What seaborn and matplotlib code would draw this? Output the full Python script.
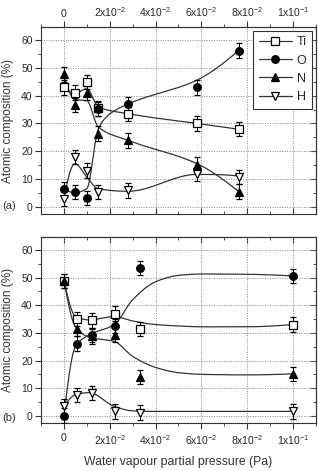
import numpy as np
import pandas as pd
import matplotlib
matplotlib.use("Agg")
import matplotlib.pyplot as plt
from matplotlib.lines import Line2D
from matplotlib.ticker import MultipleLocator, FixedLocator, NullFormatter
import seaborn as sns

# ---------------- data (a) ----------------
x_a = [0.0, 0.0048, 0.0100, 0.0150, 0.0280, 0.0580, 0.0763]
ti_a = [43.0, 41.1, 45.0, 35.4, 33.3, 30.0, 27.9]
o_a = [6.4, 5.2, 3.1, 35.1, 37.0, 43.0, 56.3]
n_a = [47.7, 36.6, 41.0, 26.3, 23.9, 15.1, 5.4]
h_a = [2.8, 17.9, 13.0, 5.2, 5.8, 11.8, 10.6]

# guide curves (a)
fit_ti_a_x = [0.0, 0.0048, 0.0100, 0.0150, 0.0280, 0.0580, 0.0763]
fit_ti_a_y = [43.0, 41.0, 42.5, 36.0, 33.5, 30.0, 27.9]
fit_o_a_x = [0.0, 0.0048, 0.0100, 0.0150, 0.0194, 0.0280, 0.0580, 0.0763]
fit_o_a_y = [6.4, 5.0, 6.5, 28.0, 33.0, 37.0, 45.6, 56.3]
fit_n_a_x = [0.0, 0.0048, 0.0100, 0.0150, 0.0280, 0.0580, 0.0763]
fit_n_a_y = [47.0, 38.6, 38.2, 28.7, 23.9, 15.5, 5.4]
fit_h_a_x = [0.0, 0.0048, 0.0100, 0.0150, 0.0280, 0.0580, 0.0763]
fit_h_a_y = [2.8, 15.5, 10.6, 6.4, 5.5, 11.6, 11.0]

# ---------------- data (b) ----------------
x_b = [0.0, 0.0055, 0.0121, 0.0223, 0.0332, 0.1000]
ti_b = [48.7, 35.0, 34.5, 37.0, 31.5, 33.0]
o_b = [0.1, 26.1, 29.3, 32.4, 53.5, 50.5]
n_b = [48.7, 31.4, 28.7, 29.3, 14.0, 15.2]
h_b = [3.4, 7.6, 8.2, 1.6, 1.2, 1.6]

fit_b_x = [0.0, 0.005, 0.011, 0.022, 0.030, 0.040, 0.050, 0.060, 0.080, 0.100]
fit_ti_b = [49.0, 36.0, 34.7, 35.9, 34.3, 33.0, 32.5, 32.2, 32.2, 33.0]
fit_o_b = [0.0, 25.0, 29.3, 33.0, 42.0, 48.5, 50.8, 51.3, 51.2, 50.6]
fit_n_b = [49.0, 32.3, 28.4, 26.9, 21.5, 17.5, 15.6, 15.0, 14.8, 15.2]
fit_h_b = [3.4, 7.6, 8.4, 3.4, 1.8, 1.6, 1.6, 1.6, 1.6, 1.6]

err = 2.6
series = ["Ti", "O", "N", "H"]
markers = {"Ti": "s", "O": "o", "N": "^", "H": "v"}
faces = {"Ti": "white", "O": "black", "N": "black", "H": "white"}
msize = {"Ti": 5.2, "O": 5.5, "N": 5.8, "H": 5.8}

xticks = [0.0, 0.02, 0.04, 0.06, 0.08, 0.10]
xticklabels = ["0", r"2x10$^{-2}$", r"4x10$^{-2}$", r"6x10$^{-2}$",
               r"8x10$^{-2}$", r"1x10$^{-1}$"]

INK = "#333333"


def pchip(x, y, xs):
    x = np.asarray(x, float)
    y = np.asarray(y, float)
    h = np.diff(x)
    d = np.diff(y) / h
    n = len(x)
    m = np.zeros(n)
    for k in range(1, n - 1):
        if d[k - 1] * d[k] <= 0:
            m[k] = 0.0
        else:
            w1 = 2 * h[k] + h[k - 1]
            w2 = h[k] + 2 * h[k - 1]
            m[k] = (w1 + w2) / (w1 / d[k - 1] + w2 / d[k])

    def end(h0, h1, d0, d1):
        mm = ((2 * h0 + h1) * d0 - h0 * d1) / (h0 + h1)
        if np.sign(mm) != np.sign(d0):
            mm = 0.0
        elif np.sign(d0) != np.sign(d1) and abs(mm) > abs(3 * d0):
            mm = 3 * d0
        return mm

    m[0] = end(h[0], h[1], d[0], d[1])
    m[-1] = end(h[-1], h[-2], d[-1], d[-2])
    idx = np.clip(np.searchsorted(x, xs) - 1, 0, n - 2)
    t = (xs - x[idx]) / h[idx]
    h00 = 2 * t**3 - 3 * t**2 + 1
    h10 = t**3 - 2 * t**2 + t
    h01 = -2 * t**3 + 3 * t**2
    h11 = t**3 - t**2
    return (h00 * y[idx] + h10 * h[idx] * m[idx] + h01 * y[idx + 1]
            + h11 * h[idx] * m[idx + 1])


sns.set_style("ticks")
plt.rcParams["font.family"] = ["Liberation Sans", "DejaVu Sans"]
plt.rcParams["mathtext.fontset"] = "custom"
plt.rcParams["mathtext.rm"] = "Liberation Sans"
plt.rcParams["mathtext.it"] = "Liberation Sans:italic"

fig = plt.figure(figsize=(3.18, 4.71), dpi=100)
ax_a = fig.add_axes([0.1289, 0.5456, 0.8648, 0.3971])
ax_b = fig.add_axes([0.1289, 0.1013, 0.8648, 0.3962])


def draw(ax, xs, data, fits):
    for s in series:
        fx, fy = fits[s]
        xx = np.linspace(fx[0], fx[-1], 300)
        df = pd.DataFrame({"x": xx, "y": pchip(fx, fy, xx)})
        sns.lineplot(data=df, x="x", y="y", ax=ax, color=INK,
                     lw=0.9, estimator=None, sort=False, zorder=2)
    for s in series:
        ax.errorbar(xs, data[s], yerr=err, fmt=markers[s], ms=msize[s],
                    mfc=faces[s], mec="black", mew=0.9, ecolor="black",
                    elinewidth=0.7, capsize=2.5, capthick=0.7, zorder=3)


draw(ax_a, x_a, {"Ti": ti_a, "O": o_a, "N": n_a, "H": h_a},
     {"Ti": (fit_ti_a_x, fit_ti_a_y), "O": (fit_o_a_x, fit_o_a_y),
      "N": (fit_n_a_x, fit_n_a_y), "H": (fit_h_a_x, fit_h_a_y)})
draw(ax_b, x_b, {"Ti": ti_b, "O": o_b, "N": n_b, "H": h_b},
     {"Ti": (fit_b_x, fit_ti_b), "O": (fit_b_x, fit_o_b),
      "N": (fit_b_x, fit_n_b), "H": (fit_b_x, fit_h_b)})


def style_x(axis, labels, direction, pad):
    axis.set_major_locator(FixedLocator(xticks))
    axis.set_minor_locator(MultipleLocator(0.01))
    if labels:
        axis.set_ticklabels(xticklabels)
    else:
        axis.set_major_formatter(NullFormatter())


for ax, top_out in ((ax_a, True), (ax_b, False)):
    ax.set_xlim(-0.01, 0.11)
    ax.set_ylim(-2.7, 64.8)
    ax.yaxis.set_major_locator(MultipleLocator(10))
    ax.yaxis.set_minor_locator(MultipleLocator(5))
    ax.xaxis.set_major_locator(FixedLocator(xticks))
    ax.xaxis.set_minor_locator(MultipleLocator(0.01))
    ax.grid(True, which="major", ls=(0, (1, 1.5)), color="#888888", lw=0.7)
    ax.set_xlabel("")
    ax.set_ylabel("")
    for sp in ax.spines.values():
        sp.set_visible(True)
        sp.set_linewidth(0.8)
        sp.set_color(INK)
    # left: outward ticks with labels
    ax.tick_params(axis="y", which="both", left=True, right=False,
                   direction="out", labelsize=7.5, pad=2, color=INK)
    ax.tick_params(axis="y", which="major", length=4)
    ax.tick_params(axis="y", which="minor", length=2.5)
    # right: inward ticks, no labels
    sy = ax.secondary_yaxis("right")
    sy.yaxis.set_major_locator(MultipleLocator(10))
    sy.yaxis.set_minor_locator(MultipleLocator(5))
    sy.yaxis.set_major_formatter(NullFormatter())
    sy.tick_params(axis="y", which="both", direction="in", color=INK)
    sy.tick_params(axis="y", which="major", length=4)
    sy.tick_params(axis="y", which="minor", length=2.5)
    sy.spines["right"].set_color(INK)
    sy.spines["right"].set_linewidth(0.8)
    # second x axis on top
    sx = ax.secondary_xaxis("top")
    sx.xaxis.set_major_locator(FixedLocator(xticks))
    sx.xaxis.set_minor_locator(MultipleLocator(0.01))
    sx.spines["top"].set_color(INK)
    sx.spines["top"].set_linewidth(0.8)
    if top_out:
        sx.set_xticks(xticks)
        sx.set_xticklabels(xticklabels)
        sx.xaxis.set_minor_locator(MultipleLocator(0.01))
        sx.tick_params(axis="x", which="both", direction="out",
                       labelsize=7.5, pad=2, color=INK)
        ax.set_xticks(xticks)
        ax.xaxis.set_minor_locator(MultipleLocator(0.01))
        ax.xaxis.set_major_formatter(NullFormatter())
        ax.tick_params(axis="x", which="both", bottom=True, top=False,
                       direction="in", color=INK)
    else:
        sx.xaxis.set_major_formatter(NullFormatter())
        sx.tick_params(axis="x", which="both", direction="in", color=INK)
        ax.set_xticks(xticks)
        ax.set_xticklabels(xticklabels)
        ax.xaxis.set_minor_locator(MultipleLocator(0.01))
        ax.tick_params(axis="x", which="both", bottom=True, top=False,
                       direction="out", labelsize=7.5, pad=3, color=INK)
    for a in (ax, sx):
        a.tick_params(axis="x", which="major", length=4)
        a.tick_params(axis="x", which="minor", length=2.5)

handles = [Line2D([0], [0], color=INK, lw=0.9, marker=markers[s],
                  ms=msize[s], mfc=faces[s], mec="black", mew=0.9)
           for s in series]
leg = ax_a.legend(handles, series, loc="upper right", fontsize=9,
                  frameon=True, fancybox=False, edgecolor=INK,
                  framealpha=1, handlelength=2.6, handletextpad=0.4,
                  borderaxespad=0.3, labelspacing=0.5, borderpad=0.45)
leg.get_frame().set_linewidth(0.8)
leg.set_zorder(10)

fig.text(0.026, 0.744, "Atomic composition (%)", rotation=90,
         ha="center", va="center", fontsize=8.5, color=INK)
fig.text(0.026, 0.299, "Atomic composition (%)", rotation=90,
         ha="center", va="center", fontsize=8.5, color=INK)
fig.text(0.030, 0.563, "(a)", ha="center", va="center", fontsize=8,
         color=INK)
fig.text(0.030, 0.113, "(b)", ha="center", va="center", fontsize=8,
         color=INK)
fig.text(0.56, 0.019, "Water vapour partial pressure (Pa)", ha="center",
         va="center", fontsize=8.8, color=INK)

fig.savefig("out.png", dpi=100)
